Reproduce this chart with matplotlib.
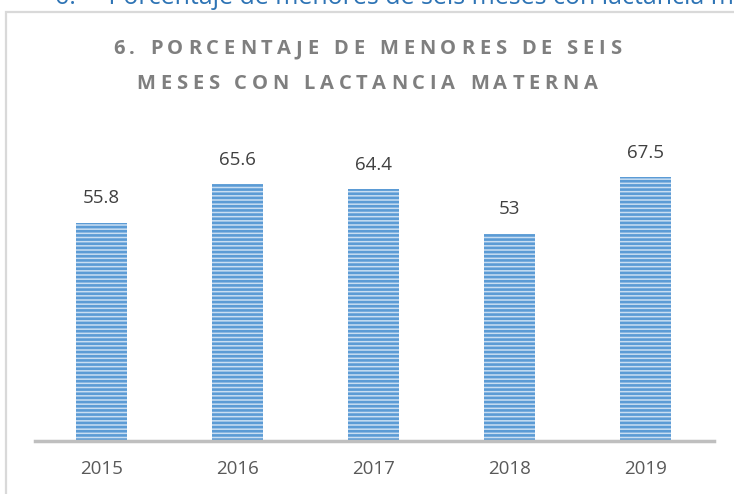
import matplotlib
matplotlib.use("Agg")
import matplotlib.pyplot as plt
from matplotlib.patches import Rectangle

years = ["2015", "2016", "2017", "2018", "2019"]
values = [55.8, 65.6, 64.4, 53, 67.5]
value_labels = ["55.8", "65.6", "64.4", "53", "67.5"]
title_lines = ["6. PORCENTAJE DE MENORES DE SEIS", "MESES CON LACTANCIA MATERNA"]
heading = "6.     Porcentaje de menores de seis meses con lactancia materna"

plt.rcParams["hatch.linewidth"] = 1.9

W, H = 734, 494
fig = plt.figure(figsize=(W / 100, H / 100), dpi=100)
fig.patch.set_facecolor("white")

# frame of the chart
fig.patches.append(Rectangle((6 / W, -0.1), 1.2, (H - 12) / H + 0.1, transform=fig.transFigure,
                             fill=False, edgecolor="#d9d9d9", linewidth=1.6))

# heading above, cut off by the picture edge as in the reference
fig.text(55 / W, 1 - 4 / H, heading, fontsize=18, color="#2e74b5", family="Open Sans",
         va="baseline", ha="left")

ax = fig.add_axes([35 / W, 1 - 441 / H, (714 - 35) / W, (441 - 128) / H])
ax.set_facecolor("none")
x = list(range(len(years)))
bars = ax.bar(x, values, width=0.375, color="#c9def2", edgecolor="#5b9bd5", linewidth=0,
              hatch="----", zorder=2)
ax.set_ylim(0, 80)
ax.set_xlim(-0.49, 4.5)
for s in ["top", "right", "left"]:
    ax.spines[s].set_visible(False)
ax.spines["bottom"].set_color("#bfbfbf")
ax.spines["bottom"].set_linewidth(2.5)
ax.set_yticks([])
ax.set_xticks(x)
ax.set_xticklabels(years, fontsize=13.5, color="#595959", family="Open Sans")
ax.tick_params(axis="x", length=0, pad=14)
for xi, v, lab in zip(x, values, value_labels):
    ax.annotate(lab, (xi, v), xytext=(0, 11), textcoords="offset points", ha="center",
                va="bottom", fontsize=13.5, color="#404040", family="Open Sans")

# letter-spaced title
fig.canvas.draw()
renderer = fig.canvas.get_renderer()
spacing = 4.8
tprops = dict(fontsize=14.5, fontweight="bold", color="#7f7f7f", family="Open Sans")


def char_width(ch):
    if ch == " ":
        t = fig.text(0, 0, "a a", **tprops)
        w_full = t.get_window_extent(renderer).width
        t.remove()
        t = fig.text(0, 0, "aa", **tprops)
        w2 = t.get_window_extent(renderer).width
        t.remove()
        return w_full - w2
    t = fig.text(0, 0, ch, **tprops)
    w = t.get_window_extent(renderer).width
    t.remove()
    return w


for line, yc in zip(title_lines, [49, 84]):
    widths = [char_width(ch) for ch in line]
    total = sum(widths) + spacing * (len(line) - 1)
    xs = W / 2 - total / 2
    for ch, w in zip(line, widths):
        if ch != " ":
            fig.text(xs / W, 1 - yc / H, ch, ha="left", va="center", **tprops)
        xs += w + spacing

fig.savefig("out.png", dpi=100)
